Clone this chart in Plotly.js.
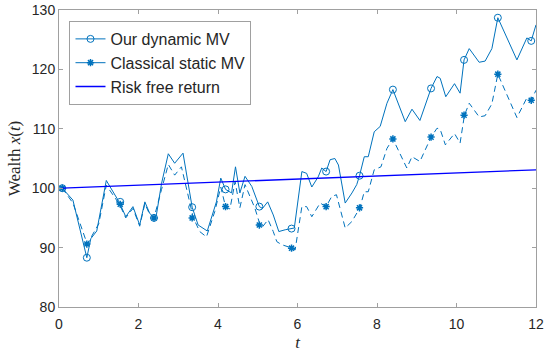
<!DOCTYPE html>
<html>
<head>
<meta charset="utf-8">
<script src="https://cdn.plot.ly/plotly-3.0.1.min.js"></script>
<style>html,body{margin:0;padding:0;background:#fff;}#chart{width:550px;height:356px;}</style>
</head>
<body>
<div id="chart"></div>
<script>
// Our dynamic MV (solid line vertices)
var dynT = [0.083,0.35,0.70,0.80,0.95,1.19,1.52,1.68,1.86,2.03,2.16,2.28,2.39,2.45,2.58,2.75,2.91,3.12,3.35,3.50,3.73,3.96,4.07,4.19,4.34,4.44,4.55,4.68,4.85,5.04,5.12,5.25,5.39,5.53,5.69,5.85,5.92,6.11,6.23,6.36,6.52,6.61,6.72,6.82,6.94,7.03,7.20,7.37,7.49,7.56,7.68,7.78,7.93,8.08,8.25,8.40,8.71,8.88,9.08,9.36,9.51,9.59,9.73,9.95,10.09,10.19,10.32,10.57,10.72,10.89,11.04,11.52,11.77,11.88,12.0];
var dynV = [100.0,98.0,88.3,91.5,92.8,101.3,97.6,95.2,96.9,93.8,97.7,95.8,95.0,95.5,100.8,105.8,104.2,105.9,96.8,93.8,92.8,97.7,101.7,99.8,99.2,103.6,99.2,102.0,100.3,96.9,96.6,97.7,95.5,92.7,93.0,93.2,93.3,102.8,102.5,100.2,101.9,103.4,102.8,104.8,105.0,103.9,97.5,99.2,100.6,102.1,105.3,105.3,109.5,110.4,114.3,116.6,111.2,113.3,111.4,116.8,118.8,118.5,115.4,117.6,116.0,121.6,123.5,121.2,121.4,123.5,128.7,121.6,125.3,124.8,127.5];
// marker positions
var markT = [0.083,0.70,1.54,2.39,3.35,4.19,5.04,5.85,6.72,7.56,8.40,9.36,10.19,11.04,11.88];
var dynMarkV = [100.0,88.3,97.7,95.0,96.8,99.8,96.9,93.2,102.8,102.1,116.6,116.8,121.6,128.7,124.8];

// Classical static MV (dashed line vertices)
var statT = [0.083,0.35,0.71,0.90,1.00,1.19,1.52,1.68,1.86,2.03,2.16,2.28,2.39,2.58,2.75,2.91,3.08,3.38,3.54,3.71,3.92,4.07,4.19,4.30,4.43,4.55,4.68,4.93,5.06,5.12,5.26,5.39,5.48,5.60,5.87,5.94,6.11,6.23,6.36,6.57,6.72,6.86,6.98,7.20,7.37,7.57,7.68,7.78,7.93,8.10,8.25,8.40,8.75,8.88,9.08,9.36,9.51,9.59,9.72,9.95,10.09,10.20,10.32,10.57,10.72,10.89,11.04,11.52,11.77,11.88,12.0];
var statV = [100.0,97.5,90.6,93.0,94.0,100.5,97.3,95.0,96.6,93.6,97.4,95.6,95.0,99.8,104.0,102.2,103.6,95.0,92.7,91.8,96.1,100.2,96.9,96.5,101.1,96.7,100.6,96.6,93.8,93.5,94.7,92.7,91.0,90.5,89.9,89.6,96.9,96.9,95.2,97.5,96.9,98.6,98.9,93.3,94.4,96.7,99.4,99.4,103.1,103.6,106.7,108.3,103.4,105.3,104.5,108.6,110.1,109.9,107.3,109.2,107.6,112.3,114.3,112.0,112.2,114.2,119.2,111.9,115.2,114.8,116.5];
var statMarkV = [100.0,90.6,97.3,95.0,95.0,96.9,93.8,89.9,96.9,96.7,108.3,108.6,112.3,119.2,114.8];

// Risk free return
var rfT = [0.083, 12];
var rfV = [100.0, 103.1];

var seriesNames = ['Our dynamic MV', 'Classical static MV', 'Risk free return'];
var xTicks = [0,2,4,6,8,10,12];
var yTicks = [80,90,100,110,120,130];

var C1 = '#0072BD', C2 = '#0000FF';
var dashPat = '6px,4px';

var traces = [
  {x: dynT, y: dynV, mode: 'lines', line: {color: C1, width: 1}, showlegend: false, hoverinfo: 'skip'},
  {x: markT, y: dynMarkV, mode: 'markers', marker: {symbol: 'circle-open', size: 7, color: C1, line: {width: 1}}, showlegend: false},
  {x: statT, y: statV, mode: 'lines', line: {color: C1, width: 1, dash: dashPat}, showlegend: false},
  {x: markT, y: statMarkV, mode: 'markers', marker: {symbol: 'asterisk-open', size: 6, color: C1, line: {width: 1.5, color: C1}}, showlegend: false},
  {x: rfT, y: rfV, mode: 'lines', line: {color: C2, width: 1.3}, showlegend: false},
  // legend entries
  {x: [null], y: [null], mode: 'lines+markers', name: seriesNames[0], line: {color: C1, width: 1}, marker: {symbol: 'circle-open', size: 7, color: C1}},
  {x: [null], y: [null], mode: 'lines+markers', name: seriesNames[1], line: {color: C1, width: 1}, marker: {symbol: 'asterisk-open', size: 6, color: C1, line: {width: 1.5, color: C1}}},
  {x: [null], y: [null], mode: 'lines', name: seriesNames[2], line: {color: C2, width: 1.3}}
];

var axisCommon = {
  showgrid: false, zeroline: false, showline: true, mirror: 'ticks',
  linecolor: '#a0a0a0', linewidth: 1, ticks: 'inside', ticklen: 4, tickcolor: '#a0a0a0',
  tickfont: {family: 'Liberation Sans, Arial, sans-serif', size: 14, color: '#262626'}
};

var layout = {
  width: 550, height: 356,
  margin: {l: 59, r: 14, t: 10, b: 49},
  paper_bgcolor: '#fff', plot_bgcolor: '#fff',
  xaxis: Object.assign({}, axisCommon, {
    range: [0, 12], tickvals: xTicks, ticktext: xTicks.map(String), ticklabelstandoff: 4,
    title: {text: '<i>t</i>', font: {family: 'Liberation Serif, Times New Roman, serif', size: 17, color: '#262626'}, standoff: 5}
  }),
  yaxis: Object.assign({}, axisCommon, {
    range: [80, 130], tickvals: yTicks, ticktext: yTicks.map(String),
    title: {text: 'Wealth <i>x</i>(<i>t</i>)', font: {family: 'Liberation Serif, Times New Roman, serif', size: 17, color: '#262626'}, standoff: 6}
  }),
  legend: {
    x: 0.022, y: 0.963, xanchor: 'left', yanchor: 'top',
    bgcolor: '#fff', bordercolor: '#a0a0a0', borderwidth: 1,
    font: {family: 'Liberation Sans, Arial, sans-serif', size: 16, color: '#262626'},
    tracegroupgap: 0, itemwidth: 30
  },
  showlegend: true
};

Plotly.newPlot('chart', traces, layout, {displayModeBar: false, staticPlot: true});
</script>
</body>
</html>
